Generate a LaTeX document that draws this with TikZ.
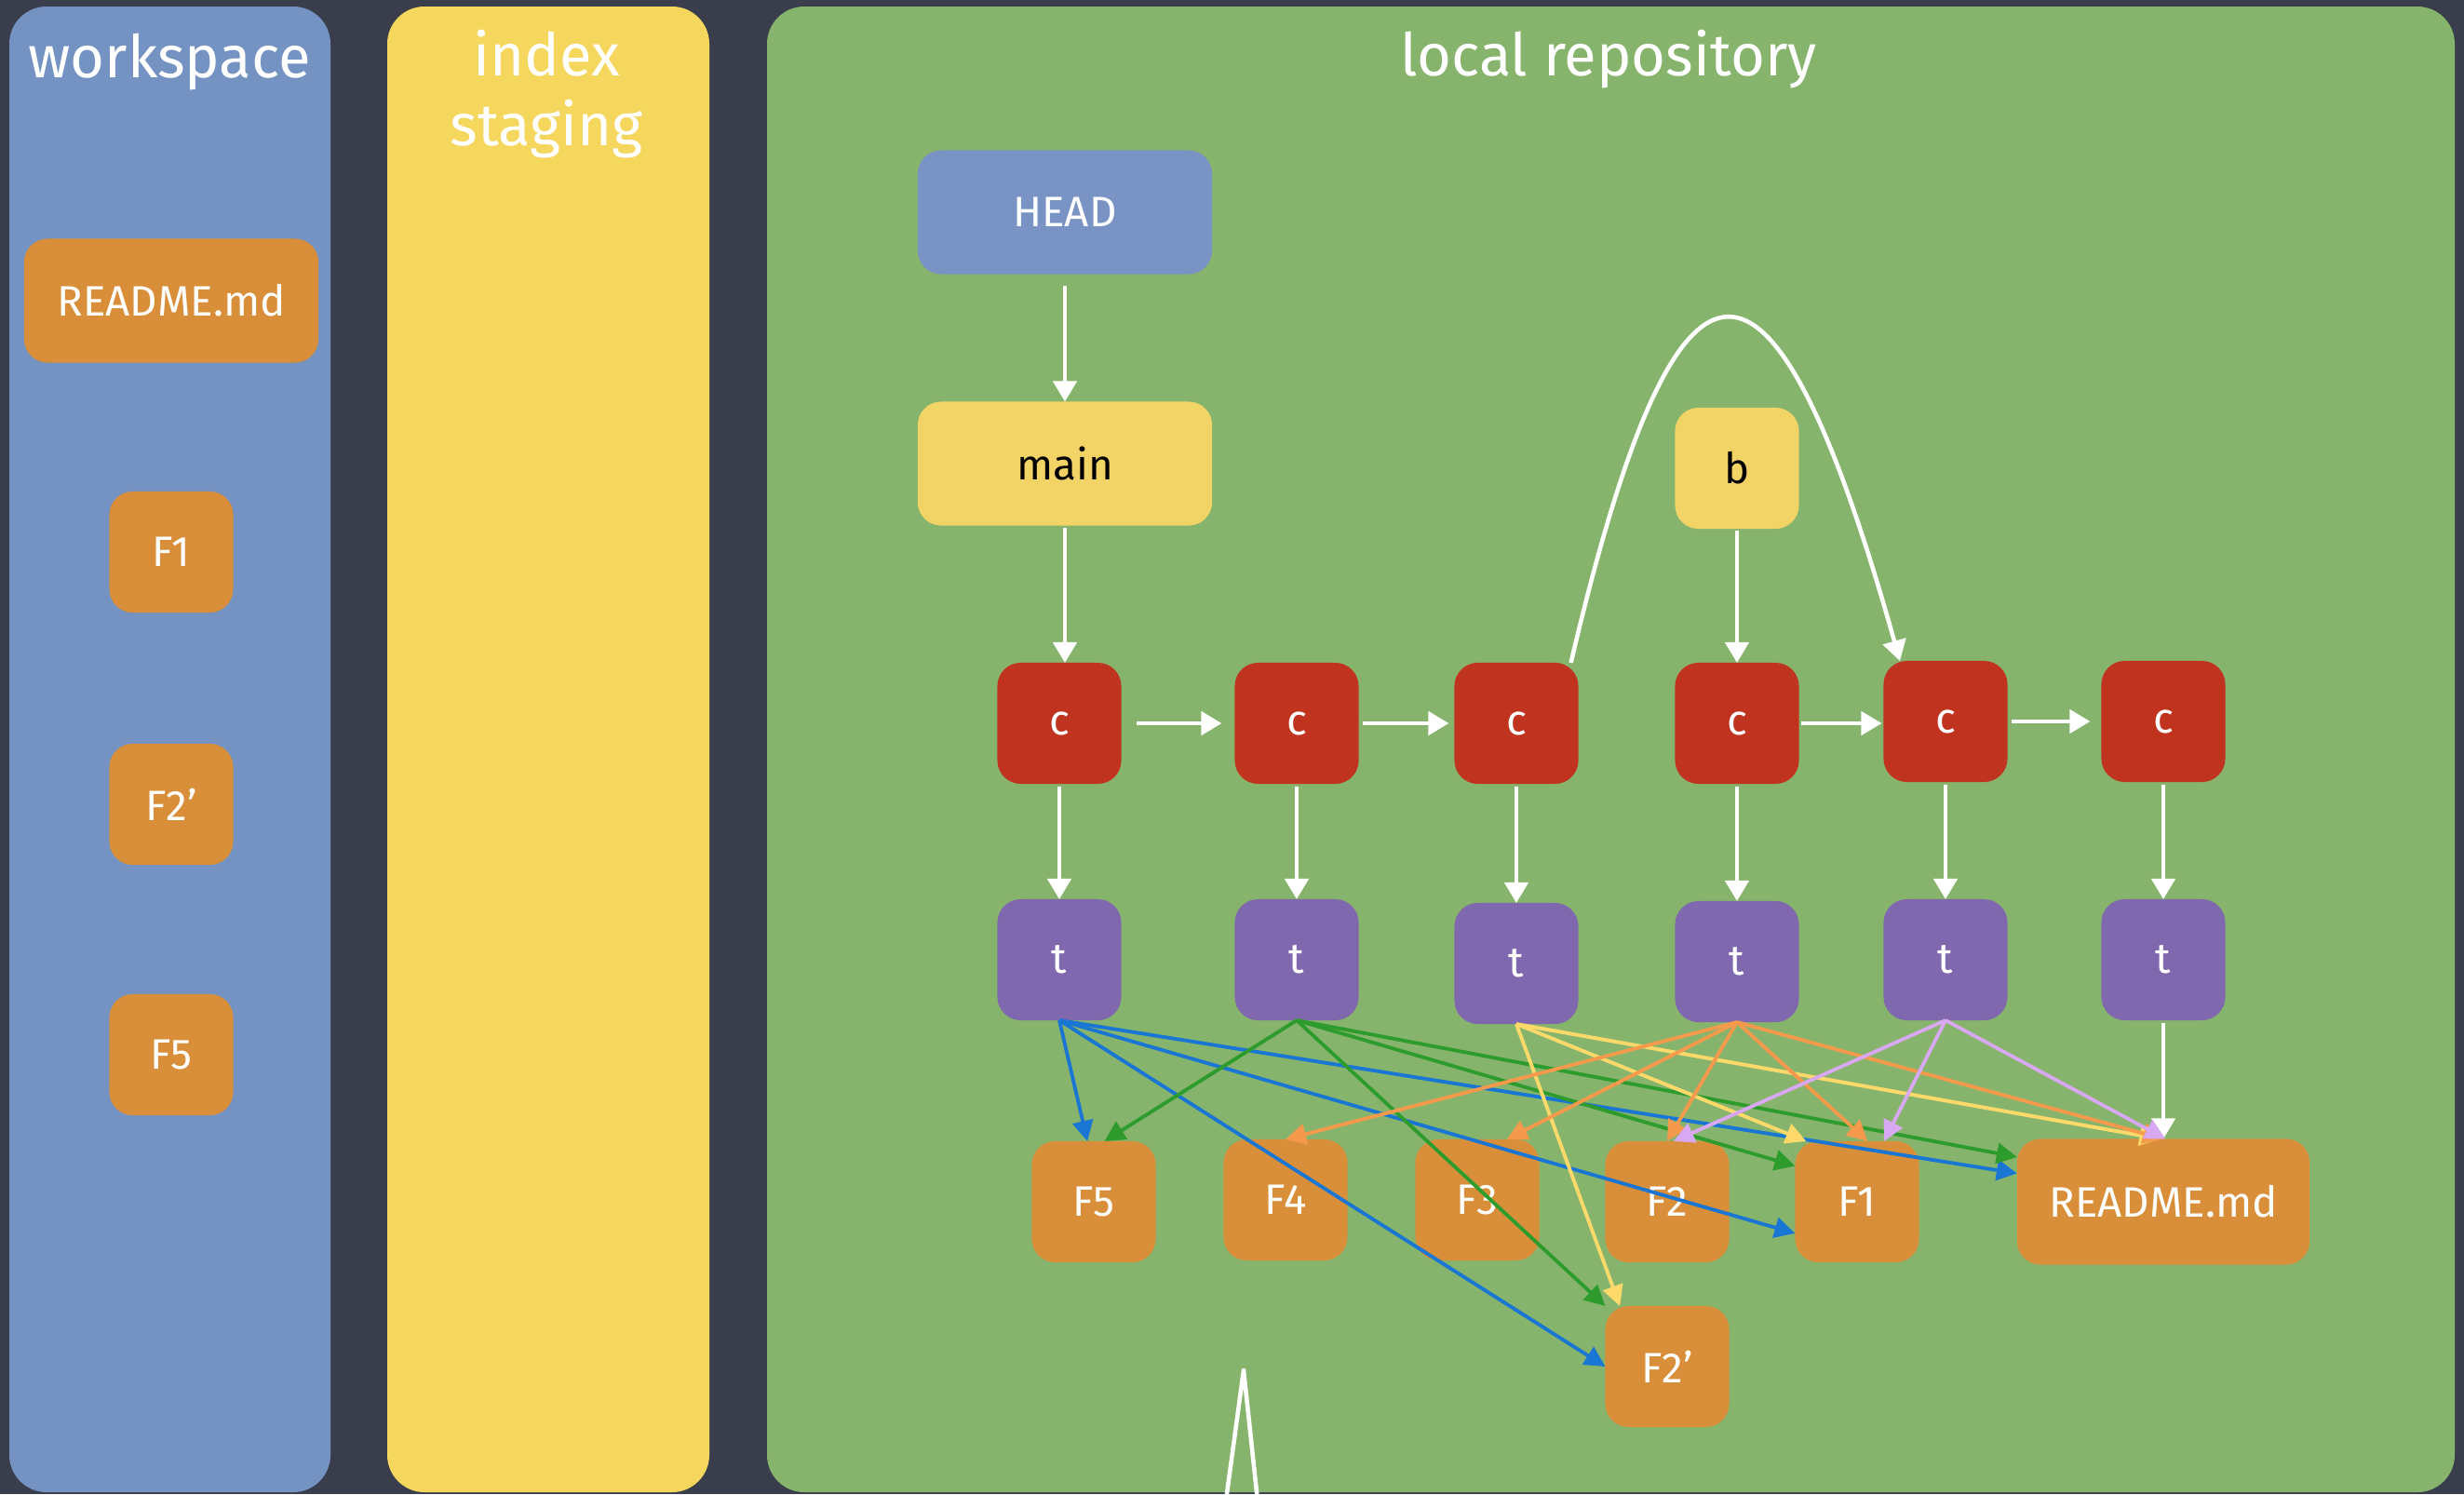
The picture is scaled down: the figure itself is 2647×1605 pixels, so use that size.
\documentclass[tikz,border=0pt]{standalone}
\usepackage{fontspec}
\setmainfont{Fira Sans}
\usetikzlibrary{arrows.meta}
\definecolor{bg}{HTML}{3A3E4C}
\definecolor{wsblue}{HTML}{7492C2}
\definecolor{ixyellow}{HTML}{F5D75E}
\definecolor{repogreen}{HTML}{87B46D}
\definecolor{fileorange}{HTML}{D98F3A}
\definecolor{headblue}{HTML}{7A93C5}
\definecolor{refyellow}{HTML}{F2D366}
\definecolor{commitred}{HTML}{C0341F}
\definecolor{treepurple}{HTML}{8068AE}
\definecolor{ablue}{HTML}{1976D2}
\definecolor{agreen}{HTML}{2D9C2D}
\definecolor{ayellow}{HTML}{FFDA6B}
\definecolor{aorange}{HTML}{F59A4C}
\definecolor{alav}{HTML}{D9A8F2}
\begin{document}
\begin{tikzpicture}[x=0.01cm,y=-0.01cm,
  panel/.style={rounded corners=0.4cm},
  box/.style={rounded corners=0.25cm, minimum width=1.33cm, minimum height=1.30cm,
    inner sep=0pt, outer sep=0pt, font=\fontsize{13}{15}\selectfont, text=white},
  widebox/.style={box, minimum width=3.16cm, minimum height=1.33cm},
  filebox/.style={box, fill=fileorange},
  commit/.style={box, fill=commitred},
  tree/.style={box, fill=treepurple},
  wa/.style={draw=white, line width=1.3pt, -{Triangle[length=0.22cm,width=0.25cm]}},
  ca/.style={line width=1.1pt, -{Triangle[length=0.22cm,width=0.22cm]}},
  titletext/.style={text=white, font=\fontsize{18}{21.5}\selectfont, align=center}
]
\fill[bg] (0,0) rectangle (2647,1605);
\useasboundingbox (0,0) rectangle (2647,1605);
% panels
\fill[wsblue, panel] (10,7) rectangle (355,1603);
\fill[ixyellow, panel] (416,7) rectangle (762,1603);
\fill[repogreen, panel] (824,7) rectangle (2637,1603);
% titles
\node[titletext] (wst) at (182,66) {workspace};
\node[titletext] (ixt) at (587,101) {index\\staging};
\node[titletext] (lrt) at (1728,64) {local repository};
% workspace files
\node[widebox, fill=fileorange] (wreadme) at (184,323) {README.md};
\node[filebox] (wf1) at (184,593) {F1};
\node[filebox] (wf2p) at (184,864) {F2'};
\node[filebox] (wf5) at (184,1133) {F5};
% refs
\node[widebox, fill=headblue] (head) at (1144,228) {HEAD};
\node[widebox, fill=refyellow, text=black] (main) at (1144,498) {main};
\node[box, fill=refyellow, text=black] (b) at (1866,503) {b};
% commits
\node[commit] (c1) at (1138,777) {c};
\node[commit] (c2) at (1393,777) {c};
\node[commit] (c3) at (1629,777) {c};
\node[commit] (c4) at (1866,777) {c};
\node[commit] (c5) at (2090,775) {c};
\node[commit] (c6) at (2324,775) {c};
% trees
\node[tree] (t1) at (1138,1031) {t};
\node[tree] (t2) at (1393,1031) {t};
\node[tree] (t3) at (1629,1035) {t};
\node[tree] (t4) at (1866,1033) {t};
\node[tree] (t5) at (2090,1031) {t};
\node[tree] (t6) at (2324,1031) {t};
% files
\node[filebox] (f5) at (1175,1291) {F5};
\node[filebox] (f4) at (1381,1289) {F4};
\node[filebox] (f3) at (1587,1289) {F3};
\node[filebox] (f2) at (1791,1291) {F2};
\node[filebox] (f1) at (1995,1291) {F1};
\node[widebox, fill=fileorange, minimum width=3.14cm, minimum height=1.35cm] (readme) at (2324,1291) {README.md};
\node[filebox] (f2p) at (1791,1468) {F2'};
% white arrows
\draw[wa, shorten <=0.12cm] (head) -- (main);
\draw[wa, shorten <=0.02cm] (main.south) -- (main.south |- c1.north);
\draw[wa, shorten <=0.02cm] (b) -- (c4);
\draw[wa, shorten <=0.16cm, shorten >=0.14cm] (c1) -- (c2);
\draw[wa, shorten <=0.04cm, shorten >=0.06cm] (c2) -- (c3);
\draw[wa, shorten <=0.02cm, shorten >=0.02cm] (c4.east) -- (c4.east -| c5.west);
\draw[wa, shorten <=0.04cm, shorten >=0.12cm] (c5) -- (c6);
\draw[wa] (c3.48) .. controls (1803,220) and (1903,220) .. (c5.127);
\draw[wa, shorten <=0.03cm] (c1) -- (t1);
\draw[wa, shorten <=0.03cm] (c2) -- (t2);
\draw[wa, shorten <=0.03cm] (c3) -- (t3);
\draw[wa, shorten <=0.03cm] (c4) -- (t4);
\draw[wa, shorten <=0.03cm] (c5) -- (t5);
\draw[wa, shorten <=0.03cm] (c6) -- (t6);
\draw[wa, shorten <=0.03cm] (t6) -- (readme);
% blue: tree 1
\draw[ca, ablue] (t1.south) -- (f5.96);
\draw[ca, ablue] (t1.south) -- (f1.207);
\draw[ca, ablue] (t1.south) -- (readme.169);
\draw[ca, ablue] (t1.south) -- (f2p.west);
% green: tree 2
\draw[ca, agreen] (t2.south) -- (f5.80);
\draw[ca, agreen] (t2.south) -- (f2p.north west);
\draw[ca, agreen] (t2.south) -- (f1.150);
\draw[ca, agreen] (t2.south) -- (readme.163);
% yellow: tree 3
\draw[ca, ayellow] (t3.south) -- (f2p.128);
\draw[ca, ayellow] (t3.south) -- (f1.130);
\draw[ca, ayellow] (t3.south) -- (readme.93);
% orange: tree 4
\draw[ca, aorange] (t4.south) -- (f4.north);
\draw[ca, aorange] (t4.south) -- (f3.64);
\draw[ca, aorange] (t4.south) -- (f2.north);
\draw[ca, aorange] (t4.south) -- (f1.80);
\draw[ca, aorange] (t4.south) -- (readme.north);
% lavender: tree 5
\draw[ca, alav] (t5.south) -- (f2.84);
\draw[ca, alav] (t5.south) -- (f1.66);
\draw[ca, alav] (t5.south) -- (readme.88);
% stray chalk shape at the bottom
\coordinate (sl) at (1317,1612);
\coordinate (sa) at (1336,1472);
\coordinate (sr) at (1351,1612);
\draw[white, line width=1.3pt, line join=round] (sl) -- (sa) -- (sr);
\end{tikzpicture}
\end{document}
